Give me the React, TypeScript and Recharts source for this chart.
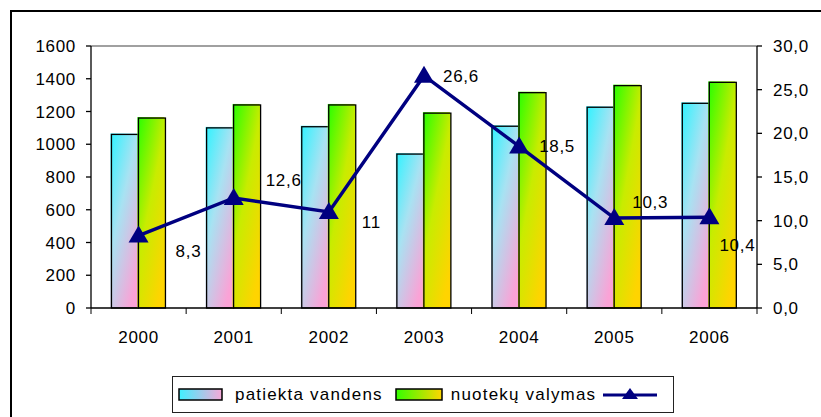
import React from "react";
import { Bar, ComposedChart, LabelList, Line, ReferenceLine, XAxis, YAxis } from "recharts";

const years = ["2000", "2001", "2002", "2003", "2004", "2005", "2006"];
const patiektaVandens = [1060, 1100, 1107, 940, 1110, 1226, 1250];
const nuotekuValymas = [1160, 1240, 1240, 1190, 1315, 1358, 1378];
const santykis = [8.3, 12.6, 11, 26.6, 18.5, 10.3, 10.4];
const leftTicks = [0, 200, 400, 600, 800, 1000, 1200, 1400, 1600];
const rightTicks = [0, 5, 10, 15, 20, 25, 30];

const data = years.map((year, i) => ({
  year,
  patiekta: patiektaVandens[i],
  nuoteku: nuotekuValymas[i],
  santykis: santykis[i]
}));

const FONT = "'Liberation Sans', Arial, sans-serif";
const W = 821;
const H = 417;
const PLOT_LEFT = 91;
const PLOT_RIGHT = 757;
const BAND = (PLOT_RIGHT - PLOT_LEFT) / years.length;

// label offsets relative to each point (dx, dy)
const labelOffsets = [
  [37, 16],
  [32, -18],
  [33, 10],
  [19, 0],
  [20, 0],
  [18, -16],
  [10, 28]
];

const fmt = (v: number) => String(v).replace(".", ",");

function XTick(props: any) {
  const { x, y, payload, index } = props;
  const axisY = y - 6;
  return (
    <g>
      <line x1={x - BAND / 2} x2={x - BAND / 2} y1={axisY} y2={axisY + 6} stroke="#000" />
      {index === years.length - 1 && (
        <line x1={x + BAND / 2} x2={x + BAND / 2} y1={axisY} y2={axisY + 6} stroke="#000" />
      )}
      <text x={x} y={axisY + 35} textAnchor="middle" fontSize={17} fontFamily={FONT} fill="#000" letterSpacing={0.7}>
        {payload.value}
      </text>
    </g>
  );
}

function GradBar(props: any) {
  const { x, y, width, height, fill } = props;
  if (height <= 0) return null;
  return (
    <g>
      <rect x={x - 1} y={y - 1} width={width} height={height + 1} fill={fill} />
      <rect x={x} y={y} width={width} height={height} fill={fill} stroke="#000" strokeWidth={1.3} />
    </g>
  );
}

function Triangle(props: any) {
  const { cx, cy } = props;
  if (cx == null || cy == null) return null;
  return <polygon points={`${cx},${cy - 10} ${cx - 10},${cy + 7} ${cx + 10},${cy + 7}`} fill="#000080" />;
}

function PointLabel(props: any) {
  const { x, y, value, index } = props;
  const [dx, dy] = labelOffsets[index] || [15, 0];
  return (
    <text x={x + dx} y={y + dy} dy="0.35em" fontSize={17} fontFamily={FONT} fill="#000" letterSpacing={0.7}>
      {fmt(value)}
    </text>
  );
}

function Legend() {
  const textStyle: React.CSSProperties = { fontSize: 17, fontFamily: FONT, letterSpacing: 1.2, color: "#000" };
  return (
    <div
      style={{
        position: "absolute",
        left: 172,
        top: 376,
        width: 502,
        height: 37,
        border: "1px solid #222",
        boxSizing: "border-box",
        display: "flex",
        alignItems: "center",
        background: "#fff"
      }}
    >
      <svg width={46} height={16} style={{ marginLeft: 5 }}>
        <rect x={1} y={2} width={43} height={11} fill="url(#legBlue)" stroke="#000" strokeWidth={1.5} />
      </svg>
      <span style={{ ...textStyle, marginLeft: 11 }}>patiekta vandens</span>
      <svg width={49} height={16} style={{ marginLeft: 12 }}>
        <rect x={1} y={2} width={46} height={11} fill="url(#legGreen)" stroke="#000" strokeWidth={1.5} />
      </svg>
      <span style={{ ...textStyle, marginLeft: 7 }}>nuotekų valymas</span>
      <svg width={54} height={20} style={{ marginLeft: 7 }}>
        <line x1={0} x2={54} y1={10} y2={10} stroke="#000080" strokeWidth={3} />
        <polygon points="27,3 19,14 35,14" fill="#000080" />
      </svg>
    </div>
  );
}

export default function App() {
  return (
    <div style={{ position: "absolute", left: 0, top: 0, width: W, height: H, overflow: "hidden", background: "#fff" }}>
      <div
        style={{
          position: "absolute",
          left: 10,
          top: 10,
          width: 830,
          height: 430,
          border: "2px solid #000",
          boxSizing: "border-box"
        }}
      />
      <svg width={0} height={0} style={{ position: "absolute" }}>
        <defs>
          <linearGradient id="legBlue" x1="0" y1="0" x2="1" y2="0">
            <stop offset="0%" stopColor="#3ff0ff" />
            <stop offset="100%" stopColor="#f7a8d8" />
          </linearGradient>
          <linearGradient id="legGreen" x1="0" y1="0" x2="1" y2="0">
            <stop offset="0%" stopColor="#33ff00" />
            <stop offset="100%" stopColor="#ffd500" />
          </linearGradient>
        </defs>
      </svg>
      <div style={{ position: "absolute", left: 0, top: 0 }}>
        <ComposedChart
          width={W}
          height={H}
          data={data}
          margin={{ top: 46, right: 0, bottom: 69, left: 0 }}
          barCategoryGap="21.5%"
          barGap={0}
        >
          <defs>
            <linearGradient id="blueFill" x1="0" y1="0" x2="0.7" y2="1">
              <stop offset="0%" stopColor="#33f2ff" />
              <stop offset="45%" stopColor="#a8e2f2" />
              <stop offset="100%" stopColor="#fba2d6" />
            </linearGradient>
            <linearGradient id="greenFill" x1="0" y1="0" x2="0.7" y2="1">
              <stop offset="0%" stopColor="#2cff00" />
              <stop offset="50%" stopColor="#c8ec00" />
              <stop offset="100%" stopColor="#ffd400" />
            </linearGradient>
          </defs>
          <XAxis
            dataKey="year"
            xAxisId="x"
            height={40}
            stroke="#000"
            strokeWidth={1.3}
            tickLine={false}
            tickSize={6}
            tickMargin={0}
            tick={<XTick />}
            interval={0}
          />
          <YAxis
            yAxisId="left"
            orientation="left"
            width={91}
            domain={[0, 1600]}
            ticks={leftTicks}
            interval={0}
            stroke="#000"
            strokeWidth={1.3}
            tickSize={5}
            tickMargin={10}
            tick={{ fontSize: 17, fill: "#000", fontFamily: FONT, letterSpacing: 0.7 }}
          />
          <YAxis
            yAxisId="right"
            orientation="right"
            width={64}
            domain={[0, 30]}
            ticks={rightTicks}
            interval={0}
            stroke="#000"
            strokeWidth={1.3}
            tickSize={5}
            tickMargin={11}
            tickFormatter={(v: number) => v.toFixed(1).replace(".", ",")}
            tick={{ fontSize: 17, fill: "#000", fontFamily: FONT, letterSpacing: 0.7, textAnchor: "start" }}
          />
          <ReferenceLine yAxisId="left" xAxisId="x" y={1600} stroke="#808080" strokeWidth={1.5} />
          <Bar
            xAxisId="x"
            yAxisId="left"
            dataKey="patiekta"
            fill="url(#blueFill)"
            shape={<GradBar />}
            isAnimationActive={false}
          />
          <Bar
            xAxisId="x"
            yAxisId="left"
            dataKey="nuoteku"
            fill="url(#greenFill)"
            shape={<GradBar />}
            isAnimationActive={false}
          />
          <Line
            xAxisId="x"
            yAxisId="right"
            dataKey="santykis"
            type="linear"
            stroke="#000080"
            strokeWidth={3.5}
            dot={<Triangle />}
            activeDot={false}
            isAnimationActive={false}
          >
            <LabelList dataKey="santykis" content={<PointLabel />} />
          </Line>
        </ComposedChart>
      </div>
      <Legend />
    </div>
  );
}
